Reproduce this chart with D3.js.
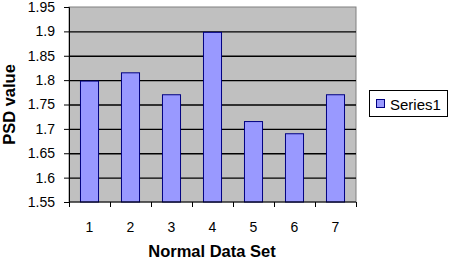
<!DOCTYPE html>
<html><head>
<meta charset="utf-8">
<script src="https://d3js.org/d3.v7.min.js"></script>
<style>
  body { margin: 0; background: white; }
  text { font-family: "Liberation Sans", Arial, sans-serif; }
</style>
</head>
<body>
<svg id="chart" width="449" height="261"></svg>
<script>
  // data
  const categories = ["1", "2", "3", "4", "5", "6", "7"];
  const psdValues = [1.798, 1.815, 1.77, 1.898, 1.715, 1.69, 1.77];
  const yTicks = [1.55, 1.6, 1.65, 1.7, 1.75, 1.8, 1.85, 1.9, 1.95];
  const seriesName = "Series1";

  let svg = d3.select("svg#chart");
  const plotLeft = 69, plotRight = 356, plotTop = 7, plotBottom = 202;

  let xScale = d3.scaleBand()
    .domain(categories)
    .range([plotLeft, plotRight])
    .paddingInner(0.56)
    .paddingOuter(0.28);

  let yScale = d3.scaleLinear()
    .domain([1.55, 1.95])
    .range([plotBottom, plotTop]);

  // plot area
  svg.append("rect")
    .attr("x", plotLeft).attr("y", plotTop)
    .attr("width", plotRight - plotLeft).attr("height", plotBottom - plotTop)
    .attr("fill", "#c0c0c0")
    .attr("stroke", "#808080");

  // gridlines
  let grid = d3.axisLeft(yScale)
    .tickValues(yTicks.slice(1, -1))
    .tickSize(-(plotRight - plotLeft))
    .tickFormat("");
  svg.append("g")
    .attr("transform", "translate(" + plotLeft + ",0)")
    .call(grid)
    .call(g => g.select(".domain").remove())
    .call(g => g.selectAll("line").attr("stroke", "black").attr("stroke-width", 1.3));

  // bars
  svg.selectAll("rect.bar")
    .data(psdValues)
    .enter().append("rect")
    .attr("class", "bar")
    .attr("x", (d, i) => xScale(categories[i]))
    .attr("y", d => yScale(d))
    .attr("width", xScale.bandwidth())
    .attr("height", d => plotBottom - yScale(d))
    .attr("fill", "#9999ff")
    .attr("stroke", "#000080")
    .attr("stroke-width", 1);

  // y axis
  let leftAxis = d3.axisLeft(yScale)
    .tickValues(yTicks)
    .tickSize(5)
    .tickPadding(9)
    .tickFormat(d => String(+d.toFixed(2)));
  svg.append("g")
    .attr("transform", "translate(" + plotLeft + ",0)")
    .call(leftAxis)
    .call(g => g.select(".domain").attr("stroke", "black"))
    .call(g => g.selectAll("line").attr("stroke", "black"))
    .call(g => g.selectAll("text").attr("font-size", 14).attr("fill", "black")
      .attr("font-family", "Liberation Sans, Arial, sans-serif"));

  // x axis with ticks between categories
  let xLine = d3.scaleLinear().domain([0, categories.length]).range([plotLeft, plotRight]);
  let bottomAxis = d3.axisBottom(xLine)
    .tickValues(d3.range(0, categories.length + 1))
    .tickSize(5)
    .tickFormat("");
  svg.append("g")
    .attr("transform", "translate(0," + plotBottom + ")")
    .call(bottomAxis)
    .call(g => g.select(".domain").attr("stroke", "black").attr("d", "M" + plotLeft + ",0H" + plotRight))
    .call(g => g.selectAll("line").attr("stroke", "black"));

  svg.append("g").selectAll("text")
    .data(categories)
    .enter().append("text")
    .attr("x", d => xScale(d) + xScale.bandwidth() / 2)
    .attr("y", 232)
    .attr("text-anchor", "middle")
    .attr("font-size", 14)
    .text(d => d);

  // axis titles
  svg.append("text")
    .attr("x", 212).attr("y", 257)
    .attr("text-anchor", "middle")
    .attr("font-size", 16.5).attr("font-weight", "bold")
    .text("Normal Data Set");

  svg.append("text")
    .attr("transform", "translate(15,104.5) rotate(-90)")
    .attr("text-anchor", "middle")
    .attr("font-size", 16.5).attr("font-weight", "bold")
    .text("PSD value");

  // legend
  svg.append("rect")
    .attr("x", 369.5).attr("y", 90.5)
    .attr("width", 78).attr("height", 26)
    .attr("fill", "white").attr("stroke", "black");
  svg.append("rect")
    .attr("x", 376.5).attr("y", 99.5)
    .attr("width", 8).attr("height", 8)
    .attr("fill", "#9999ff").attr("stroke", "#000080");
  svg.append("text")
    .attr("x", 390).attr("y", 109.5)
    .attr("font-size", 15)
    .text(seriesName);
</script>
</body></html>
